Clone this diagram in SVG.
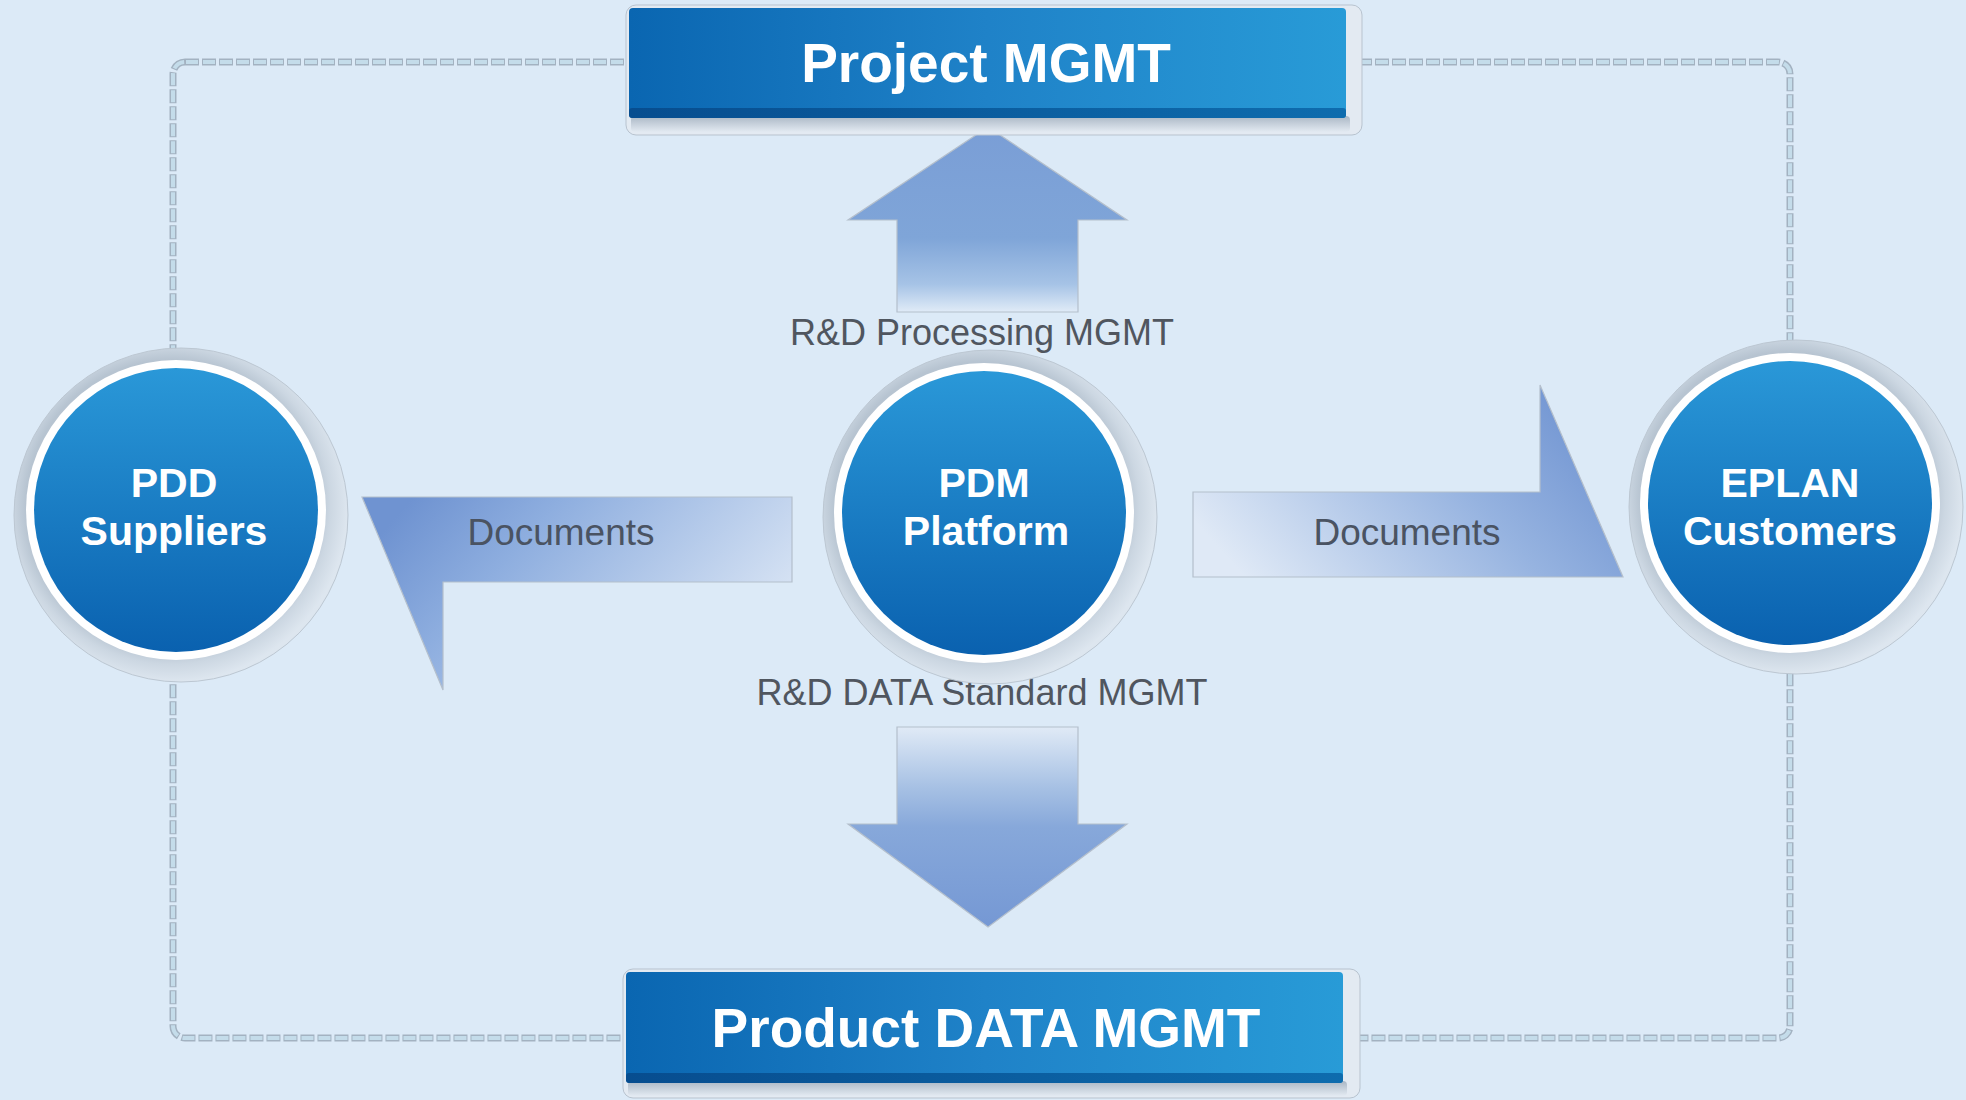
<svg xmlns="http://www.w3.org/2000/svg" width="1966" height="1100" viewBox="0 0 1966 1100">
<defs>
<style>
.lbl{font-family:"Liberation Sans",Arial,sans-serif;font-size:36px;fill:#50565f;text-anchor:middle}
.doc{font-family:"Liberation Sans",Arial,sans-serif;font-size:37px;fill:#4a5362;text-anchor:middle}
.ctext{font-family:"Liberation Sans",Arial,sans-serif;font-weight:bold;font-size:41px;fill:#ffffff;text-anchor:middle}
.btext{font-family:"Liberation Sans",Arial,sans-serif;font-weight:bold;font-size:55px;fill:#ffffff;text-anchor:middle}
.ring{fill:#ffffff}
.core{fill:url(#gCircle)}
.frame{fill:#e3eaf2;stroke:#b8c3cf;stroke-width:1}
.box{fill:url(#gBox)}
.band{fill:url(#gBand)}
.arr{stroke:#b4bfcc;stroke-width:1.2}
</style>
<linearGradient id="gCircle" x1="0" y1="0" x2="0" y2="1">
<stop offset="0" stop-color="#2a98d8"/>
<stop offset="1" stop-color="#0a61af"/>
</linearGradient>
<radialGradient id="gHalo" cx="0.47" cy="0.47" r="0.53">
<stop offset="0.82" stop-color="#b7c4d1"/>
<stop offset="0.9" stop-color="#ccd7e2"/>
<stop offset="1" stop-color="#dde6ef"/>
</radialGradient>
<linearGradient id="gBox" x1="0" y1="0" x2="1" y2="0">
<stop offset="0" stop-color="#0a66b1"/>
<stop offset="0.5" stop-color="#1f82c8"/>
<stop offset="1" stop-color="#289bd7"/>
</linearGradient>
<linearGradient id="gBand" x1="0" y1="0" x2="1" y2="0">
<stop offset="0" stop-color="#074d8f"/>
<stop offset="1" stop-color="#0e6cae"/>
</linearGradient>
<linearGradient id="gShadow" x1="0" y1="0" x2="0" y2="1">
<stop offset="0" stop-color="#aab7c5"/>
<stop offset="1" stop-color="#e3eaf2"/>
</linearGradient>
<linearGradient id="gUp" x1="0" y1="0" x2="0" y2="1">
<stop offset="0" stop-color="#7a9ed6"/>
<stop offset="0.6" stop-color="#7fa5d8"/>
<stop offset="0.85" stop-color="#a6c3e6"/>
<stop offset="1" stop-color="#e0ebf7"/>
</linearGradient>
<linearGradient id="gDown" x1="0" y1="0" x2="0" y2="1">
<stop offset="0" stop-color="#e0eaf6"/>
<stop offset="0.3" stop-color="#a7c1e4"/>
<stop offset="0.5" stop-color="#87a8da"/>
<stop offset="1" stop-color="#7598d4"/>
</linearGradient>
<linearGradient id="gLeft" x1="0" y1="0.3" x2="1" y2="0.7">
<stop offset="0" stop-color="#6f93d1"/>
<stop offset="0.3" stop-color="#8eaedf"/>
<stop offset="1" stop-color="#dfe9f6"/>
</linearGradient>
<linearGradient id="gRight" x1="0" y1="0.7" x2="1" y2="0.3">
<stop offset="0" stop-color="#dfe9f6"/>
<stop offset="0.6" stop-color="#96b3e0"/>
<stop offset="1" stop-color="#6f93d1"/>
</linearGradient>
</defs>
<rect x="0" y="0" width="1966" height="1100" fill="#dceaf7"/>

<g id="connectors">
<rect x="173" y="62" width="1617" height="976" rx="12" fill="none" stroke="#a3b2c1" stroke-width="7" stroke-dasharray="14 3"/>
<rect x="173" y="62" width="1617" height="976" rx="12" fill="none" stroke="#c4dcea" stroke-width="4" stroke-dasharray="12 5" stroke-dashoffset="-1"/>
<g id="arrow-up">
<polygon class="arr" points="988,127 1127,220 1078,220 1078,312 897,312 897,220 848,220" fill="url(#gUp)"/>
</g>
<g id="arrow-down">
<polygon class="arr" points="897,727 1078,727 1078,824 1127,824 988,927 848,824 897,824" fill="url(#gDown)"/>
</g>
<g id="arrow-left">
<polygon class="arr" points="362,497 792,497 792,582 443,582 443,690" fill="url(#gLeft)"/>
<text class="doc" x="561" y="545">Documents</text>
</g>
<g id="arrow-right">
<polygon class="arr" points="1193,492 1540,492 1540,385 1623,577 1193,577" fill="url(#gRight)"/>
<text class="doc" x="1407" y="545">Documents</text>
</g>
<text class="lbl" x="982" y="345">R&amp;D Processing MGMT</text>
<text class="lbl" x="982" y="705">R&amp;D DATA Standard MGMT</text>
</g>

<g id="project-mgmt">
<rect class="frame" x="626" y="5" width="736" height="130" rx="10"/>
<rect x="631" y="116" width="719" height="16" rx="4" fill="url(#gShadow)"/>
<rect class="box" x="629" y="8" width="717" height="110" rx="4"/>
<rect class="band" x="629" y="108" width="717" height="10" rx="3"/>
<text class="btext" x="986" y="82">Project MGMT</text>
</g>

<g id="product-data-mgmt">
<rect class="frame" x="623" y="969" width="737" height="129" rx="10"/>
<rect x="628" y="1081" width="719" height="15" rx="4" fill="url(#gShadow)"/>
<rect class="box" x="626" y="972" width="717" height="111" rx="4"/>
<rect class="band" x="626" y="1073" width="717" height="10" rx="3"/>
<text class="btext" x="986" y="1047">Product DATA MGMT</text>
</g>

<g id="pdd-suppliers">
<circle cx="181" cy="515" r="167" fill="url(#gHalo)" stroke="#bcc7d2" stroke-width="1"/>
<circle class="ring" cx="176" cy="510" r="150"/>
<circle class="core" cx="176" cy="510" r="142"/>
<text class="ctext" x="174" y="497">PDD</text>
<text class="ctext" x="174" y="545">Suppliers</text>
</g>

<g id="pdm-platform">
<circle cx="990" cy="517" r="167" fill="url(#gHalo)" stroke="#bcc7d2" stroke-width="1"/>
<circle class="ring" cx="984" cy="513" r="150"/>
<circle class="core" cx="984" cy="513" r="142"/>
<text class="ctext" x="984" y="497">PDM</text>
<text class="ctext" x="986" y="545">Platform</text>
</g>

<g id="eplan-customers">
<circle cx="1796" cy="507" r="167" fill="url(#gHalo)" stroke="#bcc7d2" stroke-width="1"/>
<circle class="ring" cx="1790" cy="503" r="150"/>
<circle class="core" cx="1790" cy="503" r="142"/>
<text class="ctext" x="1790" y="497">EPLAN</text>
<text class="ctext" x="1790" y="545">Customers</text>
</g>
</svg>
